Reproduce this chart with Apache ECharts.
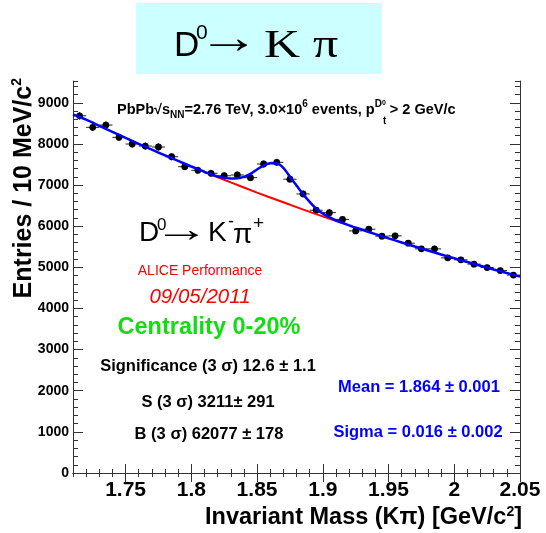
<!DOCTYPE html>
<html>
<head>
<meta charset="utf-8">
<script src="https://cdn.jsdelivr.net/npm/echarts@6/dist/echarts.min.js"></script>
<style>
html, body { margin: 0; padding: 0; background: #fff; }
#chart { width: 546px; height: 533px; }
</style>
</head>
<body>
<div id="chart"></div>
<script>
// invariant mass bin centres (GeV/c^2), 10 MeV bins
const massBins = [1.715, 1.725, 1.735, 1.745, 1.755, 1.765, 1.775, 1.785, 1.795, 1.805,
  1.815, 1.825, 1.835, 1.845, 1.855, 1.865, 1.875, 1.885, 1.895, 1.905,
  1.915, 1.925, 1.935, 1.945, 1.955, 1.965, 1.975, 1.985, 1.995, 2.005,
  2.015, 2.025, 2.035, 2.045];
// entries per bin
const entries = [8684, 8403, 8459, 8160, 7998, 7949, 7925, 7689, 7447, 7359,
  7286, 7226, 7245, 7180, 7512, 7553, 7143, 6784, 6388, 6330,
  6165, 5886, 5927, 5757, 5765, 5587, 5449, 5449, 5231, 5182,
  5078, 4995, 4922, 4811];
// total fit (blue)
const fitMass = [1.71, 1.72, 1.73, 1.74, 1.75, 1.76, 1.77, 1.78, 1.79, 1.80,
  1.81, 1.815, 1.82, 1.825, 1.83, 1.835, 1.84, 1.845, 1.85, 1.855,
  1.86, 1.865, 1.87, 1.875, 1.88, 1.885, 1.89, 1.895, 1.90, 1.905,
  1.91, 1.92, 1.93, 1.94, 1.95, 1.96, 1.97, 1.98, 1.99, 2.00,
  2.01, 2.02, 2.03, 2.04, 2.05];
const fitTotal = [8715, 8590, 8441, 8292, 8145, 8001, 7860, 7722, 7586, 7452,
  7322, 7262, 7210, 7180, 7160, 7165, 7200, 7270, 7380, 7475,
  7530, 7525, 7420, 7200, 6990, 6780, 6590, 6425, 6305, 6222,
  6145, 6021, 5913, 5808, 5705, 5605, 5505, 5408, 5313, 5220,
  5128, 5037, 4948, 4861, 4775];
// background only (red), mean +- 3 sigma
const bkgMass = [1.816, 1.83, 1.85, 1.87, 1.89, 1.914];
const bkgValues = [7244, 7065, 6817, 6581, 6349, 6085];
// axis ticks
const xMajorTicks = [1.75, 1.8, 1.85, 1.9, 1.95, 2, 2.05];
const yMajorTicks = [0, 1000, 2000, 3000, 4000, 5000, 6000, 7000, 8000, 9000];

const halfBin = 0.005;
const frameColor = '#333';
const sans = 'Liberation Sans';
const serif = 'Liberation Serif';

// one piece of text placed by hand (used for the formula-like labels)
function piece(text, x, y, size, family, extra) {
  return {
    type: 'text', x: x, y: y, z: 5,
    scaleX: (extra && extra.scaleX) || 1,
    style: Object.assign({
      text: text, fontFamily: family, fontSize: size, fill: '#000',
      align: 'left', verticalAlign: 'middle'
    }, extra && extra.style)
  };
}
function label(text, x, y, size, color, extra) {
  return {
    type: 'text', x: x, y: y, z: 5,
    style: Object.assign({
      text: text, fontFamily: sans, fontWeight: 'bold', fontSize: size, fill: color,
      align: 'center', verticalAlign: 'middle'
    }, extra)
  };
}

const chart = echarts.init(document.getElementById('chart'));

const xBase = { type: 'value', min: 1.71, max: 2.05, splitLine: { show: false } };
const yBase = { type: 'value', min: 0, max: 9530, splitLine: { show: false } };

const option = {
  animation: false,
  grid: { left: 73, right: 26, top: 81, bottom: 60, containLabel: false },
  xAxis: [
    Object.assign({}, xBase, {
      position: 'bottom', interval: 0.01,
      axisLine: { show: true, lineStyle: { color: frameColor, width: 1 } },
      axisTick: { inside: true, length: 4, lineStyle: { color: frameColor } },
      axisLabel: { customValues: xMajorTicks, fontFamily: sans, fontWeight: 'bold', fontSize: 21, color: '#000', margin: 7 }
    }),
    Object.assign({}, xBase, {
      position: 'bottom',
      axisLine: { show: false },
      axisTick: { inside: true, length: 9, customValues: xMajorTicks, lineStyle: { color: frameColor } },
      axisLabel: { show: false }
    }),
    Object.assign({}, xBase, {
      position: 'top', interval: 0.01,
      axisLine: { show: true, lineStyle: { color: frameColor, width: 1 } },
      axisTick: { inside: true, length: 4, lineStyle: { color: frameColor } },
      axisLabel: { show: false }
    }),
    Object.assign({}, xBase, {
      position: 'top',
      axisLine: { show: false },
      axisTick: { inside: true, length: 9, customValues: xMajorTicks, lineStyle: { color: frameColor } },
      axisLabel: { show: false }
    })
  ],
  yAxis: [
    Object.assign({}, yBase, {
      position: 'left', interval: 200,
      axisLine: { show: true, lineStyle: { color: frameColor, width: 1 } },
      axisTick: { inside: true, length: 5, lineStyle: { color: frameColor } },
      axisLabel: {
        customValues: yMajorTicks, fontFamily: sans, fontWeight: 'bold', fontSize: 14, color: '#000', margin: 4,
        formatter: v => String(v)
      }
    }),
    Object.assign({}, yBase, {
      position: 'left',
      axisLine: { show: false },
      axisTick: { inside: true, length: 10, customValues: yMajorTicks, lineStyle: { color: frameColor } },
      axisLabel: { show: false }
    }),
    Object.assign({}, yBase, {
      position: 'right', interval: 200,
      axisLine: { show: true, lineStyle: { color: frameColor, width: 1 } },
      axisTick: { inside: true, length: 5, lineStyle: { color: frameColor } },
      axisLabel: { show: false }
    }),
    Object.assign({}, yBase, {
      position: 'right',
      axisLine: { show: false },
      axisTick: { inside: true, length: 10, customValues: yMajorTicks, lineStyle: { color: frameColor } },
      axisLabel: { show: false }
    })
  ],
  graphic: [
    // title box  D0 -> K pi
    { type: 'rect', left: 136, top: 3, shape: { width: 246, height: 71 }, style: { fill: '#ccffff' }, z: 1 },
    piece('D', 174, 46, 35, sans),
    piece('0', 196, 33, 21, sans),
    piece('→', 198, 40, 46, sans, { scaleX: 1.35 }),
    piece('K', 264, 46, 40, serif, { scaleX: 1.25 }),
    piece('π', 313, 46, 40, serif, { scaleX: 1.25 }),

    // header
    {
      type: 'text', x: 117, y: 110, z: 5,
      style: {
        text: '{b|PbPb}{b|√}{b|s}{sub|NN}{b|=2.76 TeV, 3.0×10}{sup|6}{b| events, p}{sup|D}{sup2|0}{b| > 2 GeV/c}',
        verticalAlign: 'middle', align: 'left',
        rich: {
          b: { fontFamily: sans, fontWeight: 'bold', fontSize: 14.5, lineHeight: 21, verticalAlign: 'middle', fill: '#000' },
          sub: { fontFamily: sans, fontWeight: 'bold', fontSize: 10, lineHeight: 10, verticalAlign: 'bottom', fill: '#000' },
          sup: { fontFamily: sans, fontWeight: 'bold', fontSize: 10, lineHeight: 10, verticalAlign: 'top', fill: '#000' },
          sup2: { fontFamily: sans, fontWeight: 'bold', fontSize: 7, lineHeight: 7, verticalAlign: 'top', fill: '#000' }
        }
      }
    },
    piece('t', 383, 121, 10, sans, { style: { fontWeight: 'bold' } }),

    // D0 -> K- pi+ inside the frame
    piece('D', 139, 233, 28, sans),
    piece('0', 157, 225, 17, sans),
    piece('→', 154, 231, 36, sans, { scaleX: 1.55 }),
    piece('K', 208, 233, 28, sans),
    piece('-', 228, 222, 18, sans),
    piece('π', 233, 235, 28, sans),
    piece('+', 253, 224, 19, sans),

    label('ALICE Performance', 200, 271, 14, '#ff0000', { fontWeight: 'normal' }),
    label('09/05/2011', 200, 297, 20.5, '#ff0000', { fontWeight: 'normal', fontStyle: 'italic' }),
    label('Centrality 0-20%', 209, 328, 23.5, '#11dd11'),
    label('Significance (3 σ) 12.6 ± 1.1', 208, 366, 16.5, '#000'),
    label('S (3 σ) 3211± 291', 208, 402, 16.5, '#000'),
    label('B (3 σ) 62077 ± 178', 209, 434, 16.5, '#000'),
    label('Mean = 1.864 ± 0.001', 419, 387, 16.5, '#0000ff'),
    label('Sigma = 0.016 ± 0.002', 418, 432, 16.5, '#0000ff'),

    // axis titles
    {
      type: 'text', x: 522, y: 518, z: 5,
      style: {
        text: '{b|Invariant Mass (Kπ) [GeV/c}{s|2}{b|]}',
        align: 'right', verticalAlign: 'middle',
        rich: {
          b: { fontFamily: sans, fontWeight: 'bold', fontSize: 23.5, lineHeight: 26, verticalAlign: 'middle', fill: '#000' },
          s: { fontFamily: sans, fontWeight: 'bold', fontSize: 14, lineHeight: 14, verticalAlign: 'top', fill: '#000' }
        }
      }
    },
    {
      type: 'text', x: 24, y: 78, rotation: Math.PI / 2, z: 5,
      style: {
        text: '{b|Entries / 10 MeV/c}{s|2}',
        align: 'right', verticalAlign: 'middle',
        rich: {
          b: { fontFamily: sans, fontWeight: 'bold', fontSize: 25, lineHeight: 28, verticalAlign: 'middle', fill: '#000' },
          s: { fontFamily: sans, fontWeight: 'bold', fontSize: 14, lineHeight: 14, verticalAlign: 'top', fill: '#000' }
        }
      }
    }
  ],
  series: [
    {
      name: 'data',
      type: 'custom',
      xAxisIndex: 0, yAxisIndex: 0,
      data: massBins.map((m, i) => [m, entries[i]]),
      z: 3,
      renderItem(params, api) {
        const x = api.value(0);
        const y = api.value(1);
        const err = Math.sqrt(y);
        const c = api.coord([x, y]);
        const l = api.coord([x - halfBin, y]);
        const r = api.coord([x + halfBin, y]);
        const t = api.coord([x, y + err]);
        const b = api.coord([x, y - err]);
        const st = { stroke: '#222', lineWidth: 1 };
        return {
          type: 'group',
          children: [
            { type: 'line', shape: { x1: l[0], y1: l[1], x2: r[0], y2: r[1] }, style: st },
            { type: 'line', shape: { x1: t[0], y1: t[1], x2: b[0], y2: b[1] }, style: st },
            { type: 'circle', shape: { cx: c[0], cy: c[1], r: 3.4 }, style: { fill: '#000' } }
          ]
        };
      }
    },
    {
      name: 'background',
      type: 'line',
      xAxisIndex: 0, yAxisIndex: 0,
      data: bkgMass.map((m, i) => [m, bkgValues[i]]),
      showSymbol: false,
      smooth: 0.3,
      lineStyle: { color: '#ff0000', width: 2 },
      z: 4
    },
    {
      name: 'fit',
      type: 'line',
      xAxisIndex: 0, yAxisIndex: 0,
      data: fitMass.map((m, i) => [m, fitTotal[i]]),
      showSymbol: false,
      smooth: 0.3,
      lineStyle: { color: '#0000ff', width: 2.5 },
      z: 5
    }
  ]
};

chart.setOption(option);
</script>
</body>
</html>
